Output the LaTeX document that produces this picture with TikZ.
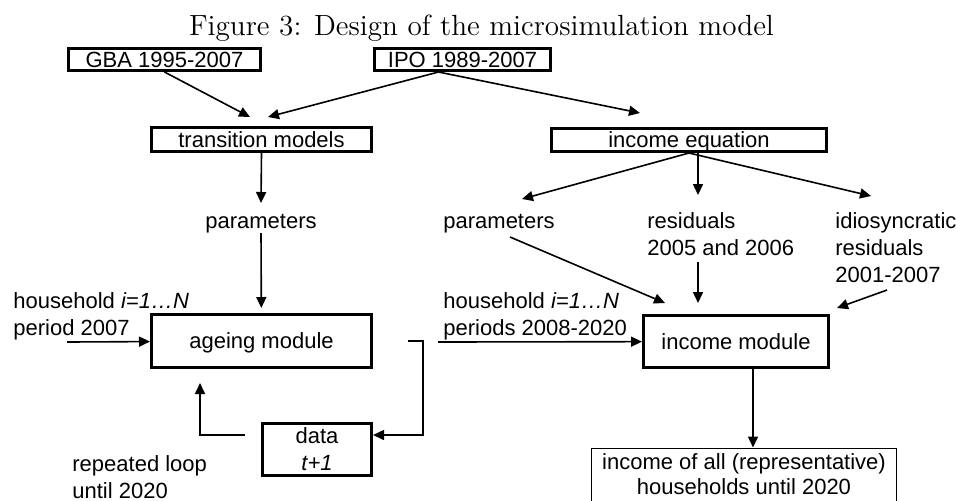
\documentclass[tikz,border=0pt]{standalone}
\usepackage{fontspec}
\setsansfont{Liberation Sans}
\usetikzlibrary{arrows.meta}

\begin{document}
\begin{tikzpicture}[x=0.5pt, y=-0.5pt,
    box/.style={rectangle, draw, line width=1.3pt, inner sep=0pt, align=center,
        text height=7.9pt, text depth=0pt, font=\sffamily\fontsize{11}{13.5}\selectfont},
    lbl/.style={inner sep=0pt, align=left, font=\sffamily\fontsize{11}{13.5}\selectfont},
    arr/.style={-{Triangle[length=5.5pt, width=5pt]}, line width=0.8pt}
]
    \useasboundingbox (0,0) rectangle (956,500);
    \node[anchor=base, font=\fontsize{14.6}{17}\selectfont] (title) at (481.5,35) {Figure 3: Design of the microsimulation model};

    % boxes
    \node[box, minimum width=96.2pt, minimum height=11.2pt] (gba) at (164.5,59.5) {GBA 1995-2007};
    \node[box, minimum width=88.2pt, minimum height=11.2pt] (ipo) at (462.5,59.5) {IPO 1989-2007};
    \node[box, minimum width=110.2pt, minimum height=12.2pt] (trans) at (261.5,139.5) {transition models};
    \node[box, minimum width=137.7pt, minimum height=11.7pt] (inceq) at (689,140) {income equation};
    \node[box, minimum width=110.2pt, minimum height=26.7pt] (ageing) at (261.5,341) {ageing module};
    \node[box, minimum width=54.7pt, minimum height=26.2pt, text height=21.4pt] (data) at (317,449.5) {data\\\textit{t+1}};
    \node[box, minimum width=92.7pt, minimum height=26.2pt] (incmod) at (736,341.5) {income module};
    \node[box, line width=0.5pt, minimum width=152.5pt, minimum height=34pt, text height=20.4pt, text depth=8.4pt,
        font=\sffamily\fontsize{11}{12.5}\selectfont] (result) at (744,482) {income of all (representative)\\households until 2020};

    % texts (multi-line ones sit on their last line)
    \node[lbl, anchor=base] (parL) at (261,228) {parameters};
    \node[lbl, anchor=base west] (hhL) at (13,335) {household \textit{i=1…N}\\period 2007};
    \node[lbl, anchor=base west] (rep) at (72,498) {repeated loop\\until 2020};
    \node[lbl, anchor=base west] (parR) at (443,228) {parameters};
    \node[lbl, anchor=base west] (resid) at (647,255) {residuals\\2005 and 2006};
    \node[lbl, anchor=base west] (idio) at (835,282) {idiosyncratic\\residuals\\2001-2007};
    \node[lbl, anchor=base west] (hhR) at (443,335) {household \textit{i=1…N}\\periods 2008-2020};

    % free ends
    \coordinate (gbaTip) at (250,117);
    \coordinate (ipoTip) at (268,117);
    \coordinate (eqTip) at (640,113);
    \coordinate (parLtop) at (261,203);
    \coordinate (parLbot) at (261,233);
    \coordinate (parTip) at (522,199);
    \coordinate (resTip) at (698,195);
    \coordinate (idiTip) at (871,196);
    \coordinate (parOut) at (510,237);
    \coordinate (parIn) at (665,303);
    \coordinate (resOut) at (698,262);
    \coordinate (resIn) at (698,303);
    \coordinate (idiOut) at (887,290);
    \coordinate (idiIn) at (837,308);
    \coordinate (inL) at (67,342);
    \coordinate (inR) at (438,342);

    \draw[arr] (gba.south) -- (gbaTip);
    \draw[arr] ([xshift=-12pt]ipo.south) -- (ipoTip);
    \draw[arr] ([xshift=-12pt]ipo.south) -- (eqTip);
    \draw[arr] (trans.south) -- (parLtop);
    \draw[arr, shorten >=2.5pt] (parLbot) -- (ageing);
    \draw[arr] (inL) -- (ageing);
    \draw[arr] ([xshift=17.5pt]ageing.east) -- ++(15,0) |- ([yshift=7.25pt]data.east);
    \draw[arr] ([xshift=-8pt, yshift=7.25pt]data.west) -| ([xshift=-30.75pt, yshift=-7pt]ageing.south);

    \draw[arr] (inceq.south) -- (parTip);
    \draw[arr] ([xshift=4.5pt]inceq.south) -- (resTip);
    \draw[arr] (inceq.south) -- (idiTip);
    \draw[arr] (parOut) -- (parIn);
    \draw[arr] (resOut) -- (resIn);
    \draw[arr] (idiOut) -- (idiIn);
    \draw[arr] (inR) -- (incmod);
    \draw[arr] ([xshift=8.5pt]incmod.south) -- ([xshift=4.5pt]result.north);
\end{tikzpicture}
\end{document}
